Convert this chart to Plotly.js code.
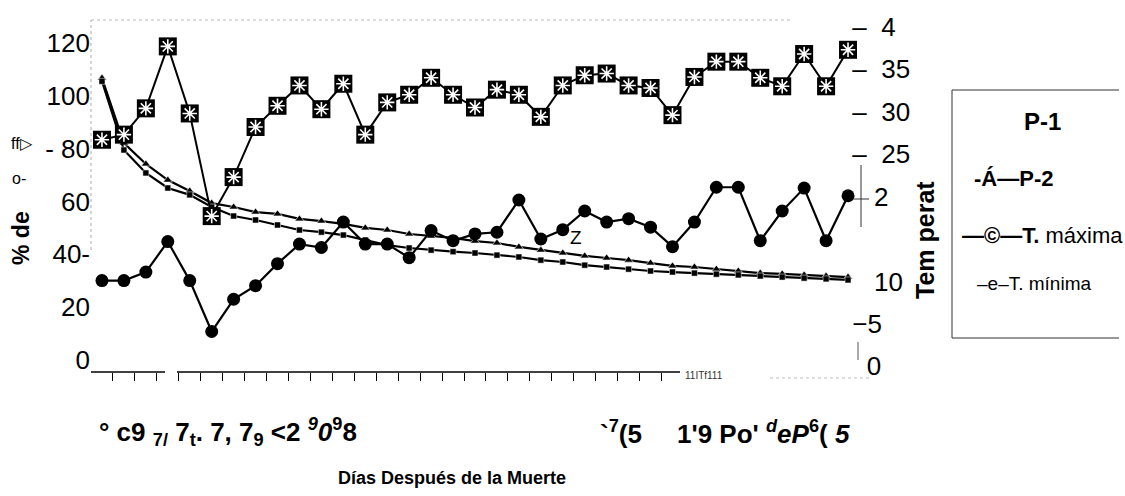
<!DOCTYPE html>
<html>
<head>
<meta charset="utf-8">
<script src="https://cdn.plot.ly/plotly-3.0.1.min.js"></script>
<style>html,body{margin:0;padding:0;background:#fff;overflow:hidden;}#chart{width:1125px;height:496px;}</style>
</head>
<body>
<div id="chart"></div>
<script>
// ---- data ----
const dias = [1,2,3,4,5,6,7,8,9,10,11,12,13,14,15,16,17,18,19,20,21,22,23,24,25,26,27,28,29,30,31,32,33,34,35];
const pesoP1 = [105.5,79.5,70.8,65.1,62.5,57.9,54.5,53.0,51.1,49.2,48.4,47.3,45.4,43.5,42.4,41.6,41.0,40.5,39.7,39.0,37.8,37.1,35.9,35.2,34.4,33.7,33.3,32.9,32.5,32.2,31.8,31.4,31.0,30.7,30.3];
const pesoP2 = [106.7,82.1,74.2,68.1,64.0,59.4,57.9,56.0,55.3,53.4,52.6,51.5,50.0,49.2,47.7,46.9,46.2,45.0,44.3,42.8,41.6,40.5,39.4,38.6,37.8,36.7,35.6,35.2,34.4,33.7,32.9,32.6,32.2,31.8,31.4];
const tMaxima = [26.7,27.3,30.4,37.7,29.8,17.7,22.3,28.2,30.7,33.1,30.3,33.3,27.3,31.1,32.0,34.0,32.0,30.5,32.6,32.0,29.4,33.1,34.3,34.5,33.1,32.8,29.6,34.1,35.9,35.9,34.0,33.0,36.8,33.0,37.3];
const tMinima = [10.1,10.1,11.1,14.7,10.1,4.1,7.9,9.5,12.1,14.4,14.0,17.0,14.4,14.4,12.8,16.0,14.8,15.6,15.8,19.6,15.0,16.1,18.3,17.0,17.4,16.4,14.1,17.0,21.1,21.1,14.8,18.3,21.0,14.8,20.1];

const pctTickVals = [0,20,40,60,80,100,120];
const pctTickText = ["0","20","40-","60","- 80","100","120"];
const tempTickVals = [0,5,10,20,25,30,35,40];
const tempTickText = ["\u00a0\u00a00","\u22125","\u00a0\u00a0\u00a010","\u00a0\u00a0\u00a02","\u2013\u00a0\u00a025","\u2013\u00a0\u00a030","\u2013\u00a0\u00a035","\u2013\u00a0\u00a04"];
const xTickBoundaries = [1.5,2.5,3.5,4.5,5.5,6.5,7.5,8.5,9.5,10.5,11.5,12.5,13.5,14.5,15.5,16.5,17.5,18.5,19.5,20.5,21.5,22.5,23.5,24.5,25.5,26.5];

const FONT = "Liberation Sans, Arial, sans-serif";

const traces = [
  {x: dias, y: pesoP2, name: "P-2", type: "scatter", mode: "lines+markers",
   line: {color: "#000", width: 2.2},
   marker: {symbol: "triangle-up", size: 8, color: "#000", line: {color: "#fff", width: 0.6}}},
  {x: dias, y: pesoP1, name: "P-1", type: "scatter", mode: "lines+markers",
   line: {color: "#000", width: 2.2},
   marker: {symbol: "square", size: 6, color: "#000", line: {color: "#fff", width: 0.5}}},
  {x: dias, y: tMinima, name: "T. mínima", type: "scatter", mode: "lines+markers", yaxis: "y2",
   line: {color: "#000", width: 2.2},
   marker: {symbol: "circle", size: 13, color: "#000"}},
  {x: dias, y: tMaxima, name: "T. máxima", type: "scatter", mode: "lines+markers", yaxis: "y2",
   line: {color: "#000", width: 2},
   marker: {symbol: "square", size: 18, color: "#000"}},
  {x: dias, y: tMaxima, name: "T. máxima", type: "scatter", mode: "markers", yaxis: "y2", hoverinfo: "skip",
   marker: {symbol: "asterisk-open", size: 12, color: "#fff", line: {color: "#fff", width: 1.6}}}
];

function px(x){ return (x - 91) / 768; }
function py(y){ return (372 - y) / 352; }
function note(text, x, y, size, extra){
  return Object.assign({text: text, xref: "paper", yref: "paper", x: px(x), y: py(y),
    xanchor: "center", yanchor: "middle", showarrow: false,
    font: {family: FONT, size: size, color: "#000"}}, extra || {});
}
function seg(x0, y0, x1, y1, color, width, dash){
  return {type: "line", xref: "paper", yref: "paper", x0: px(x0), x1: px(x1), y0: py(y0), y1: py(y1),
          line: {color: color, width: width, dash: dash || "solid"}};
}

const shapes = [
  seg(91, 250, 91, 20, "#aaa", 1, "dot"),
  seg(91, 20, 790, 20, "#bbb", 1, "dot"),
  seg(91, 372, 165, 372, "#000", 1.3),
  seg(177, 372, 680, 372, "#000", 1.3),
  seg(770, 378, 872, 378, "#bbb", 1, "dot"),
  seg(861, 165, 861, 227, "#333", 1),
  seg(853, 199, 869, 199, "#333", 1),
  seg(858, 342, 858, 360, "#555", 1),
  // legend frame (open on the right, cut by the picture edge)
  seg(952, 90, 1119, 90, "#333", 1),
  seg(952, 90, 952, 338, "#333", 1),
  seg(952, 338, 1119, 338, "#333", 1)
];

const annotations = [
  note("<b>% de</b>", 21, 238, 23, {textangle: -90}),
  note("o-", 19, 178, 16),
  note("ff\u25b7", 22, 143, 16),
  note("<b>Tem perat</b>", 925, 240, 25, {textangle: -90}),
  note("Z", 576, 237, 19),
  note("11ITf111", 683, 375, 10, {xanchor: "left", font: {family: FONT, size: 10, color: "#333"}}),
  note("<b>° c9 <sub>7/</sub> 7<sub>t</sub>. 7, 7<sub>9</sub> &lt;2 <sup><i>9</i></sup><i>0</i><sup>9</sup>8</b>", 97, 432, 26, {xanchor: "left"}),
  note("<b>`<sup>7</sup>(5</b>", 598, 432, 26, {xanchor: "left"}),
  note("<b>1'9 Po' <sup><i>d</i></sup><i>eP</i><sup>6</sup>( <i>5</i></b>", 675, 432, 26, {xanchor: "left"}),
  note("<b>Días Después de la Muerte</b>", 452, 478, 18),
  note("<b>P-1</b>", 1042, 121, 24),
  note("<b>-Á—P-2</b>", 972, 178, 22, {xanchor: "left"}),
  note("<b>—©—T.</b> máxima", 960, 235, 22, {xanchor: "left"}),
  note("–e–T. mínima", 975, 283, 19, {xanchor: "left"})
];

const layout = {
  width: 1125, height: 496,
  margin: {l: 91, r: 266, t: 20, b: 124, pad: 0},
  paper_bgcolor: "#fff", plot_bgcolor: "#fff",
  showlegend: false,
  font: {family: FONT, color: "#000"},
  xaxis: {range: [0.5, 35.5], showgrid: false, zeroline: false, showline: false,
          tickmode: "array", tickvals: xTickBoundaries, ticks: "outside", ticklen: 8, tickwidth: 1, tickcolor: "#000",
          showticklabels: false},
  yaxis: {range: [-4.54, 128.7], showgrid: false, zeroline: false, showline: false, ticks: "",
          tickmode: "array", tickvals: pctTickVals, ticktext: pctTickText,
          tickfont: {family: FONT, size: 26, color: "#000"}},
  yaxis2: {range: [-0.67, 40.81], overlaying: "y", side: "right", anchor: "free", position: 0.99,
           showgrid: false, zeroline: false, showline: false, ticks: "",
           tickmode: "array", tickvals: tempTickVals, ticktext: tempTickText,
           tickfont: {family: FONT, size: 26, color: "#000"}},
  shapes: shapes,
  annotations: annotations
};

Plotly.newPlot("chart", traces, layout, {displayModeBar: false, staticPlot: true});
</script>
</body>
</html>
